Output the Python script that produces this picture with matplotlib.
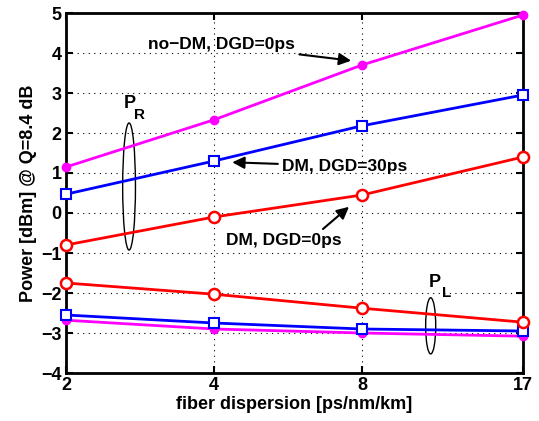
import matplotlib
matplotlib.use("Agg")
import matplotlib.pyplot as plt
from matplotlib.patches import Ellipse
from matplotlib.ticker import FixedLocator, NullLocator, FixedFormatter

plt.rcParams['font.family'] = ['Liberation Sans', 'DejaVu Sans']
plt.rcParams['font.weight'] = 'bold'
plt.rcParams['axes.unicode_minus'] = True

x_vals = [2, 4, 8, 17]
x_labels = ['2', '4', '8', '17']

nodm_R = [1.15, 2.33, 3.70, 4.95]
dm30_R = [0.47, 1.30, 2.18, 2.95]
dm0_R = [-0.80, -0.10, 0.45, 1.40]
dm0_L = [-1.75, -2.03, -2.38, -2.73]
dm30_L = [-2.55, -2.75, -2.90, -2.95]
nodm_L = [-2.68, -2.90, -3.00, -3.08]

fig = plt.figure(figsize=(5.39, 4.21), dpi=100)
ax = fig.add_axes([66/539, 1-373/421, (523-66)/539, (373-13)/421])
ax.set_xscale('log')

mag = '#ff00ff'
for y in (nodm_R, nodm_L):
    ax.plot(x_vals, y, '-', color=mag, lw=2, marker='o', ms=6, mfc=mag, mec=mag, clip_on=False, zorder=3)
for y in (dm30_R, dm30_L):
    ax.plot(x_vals, y, '-', color='#0000ff', lw=2, marker='s', ms=6.5, mfc='white', mec='#0000ff', mew=1.5, clip_on=False, zorder=3)
for y in (dm0_R, dm0_L):
    ax.plot(x_vals, y, '-', color='#ff0000', lw=2, marker='o', ms=8, mfc='white', mec='#ff0000', mew=1.8, clip_on=False, zorder=3)

ax.set_xlim(2, 17)
ax.set_ylim(-4, 5)
ax.xaxis.set_major_locator(FixedLocator(x_vals))
ax.xaxis.set_major_formatter(FixedFormatter(x_labels))
ax.xaxis.set_minor_locator(NullLocator())
ax.set_yticks(range(-4, 6))
ax.tick_params(direction='in', top=True, right=True, labelsize=13, width=1.5, length=5, pad=3)
for lab in ax.get_xticklabels() + ax.get_yticklabels():
    lab.set_fontweight('bold')
for s in ax.spines.values():
    s.set_linewidth(2)
ax.grid(True, linestyle=(0, (1, 4)), color='black', linewidth=0.8)

ax.set_xlabel('fiber dispersion [ps/nm/km]', fontsize=13, fontweight='bold', labelpad=1)
ax.set_ylabel('Power [dBm] @ Q=8.4 dB', fontsize=13, fontweight='bold', labelpad=3)

arrow = dict(arrowstyle='-|>', color='black', lw=1.5, mutation_scale=18, shrinkA=1, shrinkB=2)
ax.annotate('no\u2212DM, DGD=0ps', xy=(7.7, 3.80), xytext=(5.85, 4.2),
            fontsize=12.5, fontweight='bold', ha='right', va='center', arrowprops=arrow)
ax.annotate('DM, DGD=30ps', xy=(4.3, 1.27), xytext=(5.5, 1.17),
            fontsize=12.5, fontweight='bold', ha='left', va='center', arrowprops=arrow)
ax.annotate('DM, DGD=0ps', xy=(7.6, 0.2), xytext=(5.55, -0.68),
            fontsize=12.5, fontweight='bold', ha='center', va='center',
            arrowprops=dict(arrow, relpos=(0.8, 1.0)))

ax.add_patch(Ellipse((0.138, 0.518), 0.028, 0.353, transform=ax.transAxes, fill=False, color='black', lw=1))
ax.text(0.140, 0.736, 'P', transform=ax.transAxes, fontsize=13, fontweight='bold', ha='center', va='baseline')
ax.text(0.160, 0.706, 'R', transform=ax.transAxes, fontsize=11, fontweight='bold', ha='center', va='baseline')
ax.add_patch(Ellipse((0.798, 0.131), 0.022, 0.156, transform=ax.transAxes, fill=False, color='black', lw=1))
ax.text(0.807, 0.239, 'P', transform=ax.transAxes, fontsize=13, fontweight='bold', ha='center', va='baseline')
ax.text(0.832, 0.211, 'L', transform=ax.transAxes, fontsize=11, fontweight='bold', ha='center', va='baseline')

fig.savefig('out.png', dpi=100)
